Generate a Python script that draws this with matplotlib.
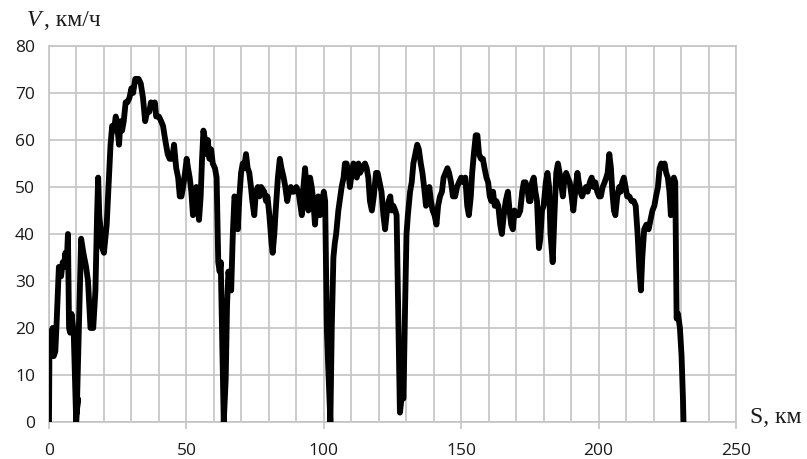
import matplotlib
matplotlib.use("Agg")
import matplotlib.pyplot as plt
from matplotlib.ticker import MultipleLocator

# distance along the route (km) and vehicle speed (km/h)
S_KM = [
    0, 0.2, 0.8, 1.3, 1.7, 2.3, 2.7, 3.3, 3.6, 4.4, 5.0, 5.4, 6.0, 6.4, 6.9, 7.3, 7.7, 8.2, 9.0, 9.9,
    10.5, 10.1, 11.7, 12.5, 13.5, 14.2, 15.1, 16.1, 16.9, 17.5, 17.9, 18.3, 19.4, 20.0, 21.0, 21.8, 22.4, 23.0, 23.6, 24.3,
    25.0, 25.5, 26.0, 26.6, 27.2, 27.9, 28.5, 29.3, 30.0, 30.6, 31.4, 32.6, 33.4, 34.2, 35.0, 35.7, 36.5, 37.1, 37.8, 38.5,
    39.0, 40.0, 40.8, 41.5, 42.3, 43.2, 43.9, 44.8, 45.5, 46.3, 47.0, 47.6, 48.2, 48.8, 49.5, 50.1, 50.6, 51.2, 51.8, 52.4,
    53.0, 53.6, 54.1, 54.6, 55.2, 55.7, 56.2, 56.8, 57.3, 57.8, 58.4, 59.0, 59.6, 60.4, 61.0, 61.6, 62.1, 62.5, 63.6, 64.3,
    64.8, 65.3, 65.8, 66.3, 66.9, 67.5, 68.0, 68.7, 69.3, 69.9, 70.5, 71.0, 71.7, 72.3, 72.9, 73.5, 74.0, 74.7, 75.3, 76.0,
    76.6, 77.2, 78.3, 79.0, 79.5, 80.2, 81.0, 81.4, 82.0, 82.5, 83.3, 84.0, 84.6, 85.4, 86.0, 86.7, 87.3, 88.0, 88.5, 89.2,
    90.0, 90.8, 91.5, 92.0, 92.6, 93.2, 93.8, 94.4, 95.0, 95.6, 96.2, 96.8, 97.4, 98.0, 98.6, 99.3, 100.0, 100.5, 101.1, 101.6,
    102.4, 102.9, 103.5, 104.0, 104.5, 105.3, 106.0, 106.5, 107.2, 107.7, 108.3, 109.0, 109.5, 110.2, 110.8, 111.4, 112.0, 112.6, 113.2, 114.0,
    115.0, 115.6, 116.2, 116.8, 117.5, 118.2, 119.0, 119.6, 120.3, 121.0, 121.7, 122.3, 123.0, 123.6, 124.2, 124.7, 125.3, 126.0, 126.5, 127.2,
    127.7, 128.3, 129.0, 129.6, 130.1, 130.6, 131.4, 132.0, 132.6, 133.3, 134.0, 134.6, 135.3, 135.9, 136.5, 137.2, 137.8, 138.4, 139.0, 139.6,
    140.3, 141.0, 141.6, 142.3, 143.0, 143.6, 144.3, 145.0, 145.6, 146.3, 147.0, 147.8, 148.5, 149.2, 150.0, 150.8, 151.5, 152.2, 152.8, 153.5,
    154.0, 154.6, 155.3, 155.9, 156.5, 157.2, 157.9, 158.5, 159.2, 159.8, 160.4, 161.0, 161.6, 162.2, 162.8, 163.5, 164.2, 164.8, 165.5, 166.2,
    167.0, 167.6, 168.2, 168.8, 169.4, 170.0, 170.8, 171.5, 172.2, 172.8, 173.4, 174.0, 174.7, 175.2, 175.8, 176.4, 177.0, 177.6, 178.3, 178.8,
    179.4, 180.0, 180.8, 181.4, 182.0, 182.5, 183.3, 184.0, 184.6, 185.2, 185.8, 186.5, 187.0, 187.6, 188.2, 188.8, 189.5, 190.2, 190.8, 191.5,
    192.3, 192.8, 193.4, 194.0, 194.6, 195.4, 196.0, 196.8, 197.5, 198.2, 198.8, 199.5, 200.2, 200.8, 201.5, 202.2, 202.8, 203.3, 203.9, 204.5,
    205.0, 205.6, 206.1, 206.8, 207.5, 208.0, 208.6, 209.2, 209.8, 210.4, 211.2, 212.0, 212.8, 213.5, 214.2, 214.8, 215.4, 215.9, 216.6, 217.4,
    218.2, 218.9, 219.6, 220.3, 220.9, 221.6, 222.2, 222.8, 223.5, 224.0, 224.6, 225.2, 225.8, 226.3, 226.8, 227.4, 227.9, 228.4, 228.9, 229.6,
    230.2, 230.7, 230.9,
]
V_KMH = [
    0, 19, 17, 20, 14, 15, 20, 29, 33, 31, 34, 33, 36, 33, 40, 20, 19, 23, 19, 0,
    5, 2, 39, 36, 33, 30, 20, 20, 28, 44, 52, 44, 37, 36, 42, 52, 59, 63, 62, 65,
    62, 59, 64, 62, 64, 68, 68, 69, 71, 70, 73, 73, 72, 69, 64, 66, 66, 68, 67, 68,
    65, 65, 64, 63, 60, 57, 56, 56, 59, 54, 52, 48, 48, 50, 53, 56, 54, 52, 49, 44,
    47, 50, 46, 43, 48, 56, 62, 60, 57, 60, 56, 58, 55, 54, 52, 34, 32, 34, 0, 9,
    25, 32, 30, 28, 40, 48, 47, 41, 48, 53, 55, 54, 57, 54, 53, 50, 47, 44, 49, 50,
    48, 50, 49, 47, 48, 44, 38, 36, 40, 45, 52, 56, 54, 52, 50, 47, 49, 50, 49, 49,
    50, 49, 46, 44, 50, 54, 49, 45, 52, 50, 47, 42, 47, 48, 44, 46, 49, 47, 20, 12,
    0, 20, 35, 38, 40, 45, 48, 50, 52, 55, 55, 53, 50, 53, 55, 54, 52, 55, 53, 54,
    55, 54, 52, 47, 45, 48, 53, 53, 51, 49, 44, 41, 45, 47, 48, 45, 46, 45, 44, 20,
    2, 5, 5, 25, 40, 44, 49, 51, 55, 57, 59, 58, 55, 53, 50, 46, 47, 50, 47, 45,
    44, 42, 46, 48, 49, 52, 53, 54, 53, 51, 48, 48, 50, 51, 52, 51, 52, 46, 44, 48,
    53, 57, 61, 61, 57, 56, 56, 54, 52, 51, 48, 47, 49, 46, 47, 46, 42, 40, 44, 47,
    49, 45, 42, 41, 45, 44, 44, 45, 49, 51, 51, 50, 47, 47, 51, 52, 49, 47, 37, 39,
    45, 46, 51, 53, 50, 40, 34, 45, 53, 55, 53, 50, 48, 52, 53, 52, 51, 48, 45, 49,
    53, 51, 49, 48, 49, 50, 49, 51, 52, 50, 51, 49, 48, 48, 50, 51, 52, 53, 57, 54,
    49, 45, 44, 48, 50, 49, 51, 52, 50, 48, 48, 47, 47, 46, 40, 33, 28, 35, 41, 42,
    41, 43, 45, 46, 48, 50, 54, 55, 54, 55, 53, 52, 49, 44, 50, 52, 51, 22, 23, 20,
    14, 5, 0,
]

GRID = "#c4c4c4"
TXT = "#1a1a1a"

fig = plt.figure(figsize=(8.07, 4.59), dpi=100)
ax = fig.add_axes([0.0607, 0.0806, 0.8513, 0.8192])

ax.plot(S_KM, V_KMH, color="black", linewidth=4.2,
        solid_joinstyle="round", solid_capstyle="round", zorder=3)

ax.set_xlim(0, 250)
ax.set_ylim(0, 80)
ax.xaxis.set_major_locator(MultipleLocator(50))
ax.xaxis.set_minor_locator(MultipleLocator(10))
ax.yaxis.set_major_locator(MultipleLocator(10))

ax.grid(True, which="both", axis="x", color=GRID, linewidth=1.2)
ax.grid(True, which="major", axis="y", color=GRID, linewidth=1.2)
ax.set_axisbelow(True)
for sp in ax.spines.values():
    sp.set_color(GRID)
    sp.set_linewidth(1.2)

ax.tick_params(axis="x", which="major", length=5, width=1.2, color=GRID,
               pad=10, labelsize=12.5, labelcolor=TXT)
ax.tick_params(axis="x", which="minor", length=0)
ax.tick_params(axis="y", length=0, pad=10, labelsize=12.5, labelcolor=TXT)
for lab in ax.get_xticklabels() + ax.get_yticklabels():
    lab.set_fontfamily("Open Sans")

# axis captions
fig.text(0.033, 0.944, "V", fontsize=17, fontstyle="italic",
         family="Liberation Serif", color=TXT, ha="left", va="baseline")
fig.text(0.054, 0.944, ", км/ч", fontsize=17,
         family="Liberation Serif", color=TXT, ha="left", va="baseline")
fig.text(0.929, 0.078, "S, км", fontsize=17,
         family="Liberation Serif", color=TXT, ha="left", va="baseline")

fig.savefig("out.png", dpi=100)
